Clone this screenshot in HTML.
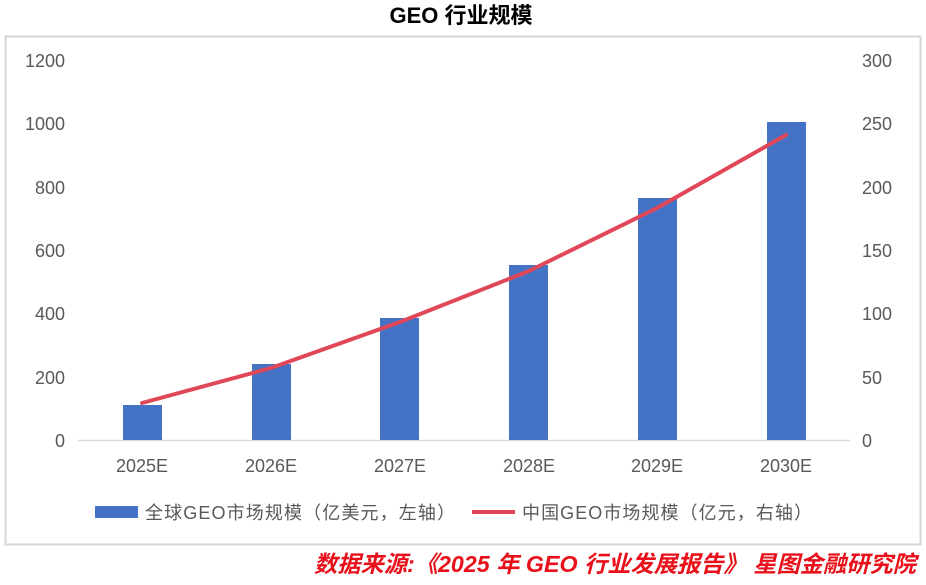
<!DOCTYPE html>
<html><head><meta charset="utf-8"><style>
body{margin:0;background:#fff;width:926px;height:580px;overflow:hidden}
svg text{font-family:"Liberation Sans","Noto Sans CJK SC",sans-serif}
</style></head><body>
<svg width="926" height="580" viewBox="0 0 926 580">
<text x="461" y="23" text-anchor="middle" font-size="22" font-weight="bold" fill="#000">GEO 行业规模</text>
<rect x="5.5" y="36.5" width="915" height="508" fill="none" stroke="#d6d6d6" stroke-width="2"/>
<g font-size="18" fill="#595959" text-anchor="end">
<text x="65" y="67">1200</text><text x="65" y="130">1000</text><text x="65" y="194">800</text>
<text x="65" y="257">600</text><text x="65" y="320">400</text><text x="65" y="384">200</text><text x="65" y="447">0</text>
</g>
<g font-size="18" fill="#595959" text-anchor="start">
<text x="862" y="67">300</text><text x="862" y="130">250</text><text x="862" y="194">200</text>
<text x="862" y="257">150</text><text x="862" y="320">100</text><text x="862" y="384">50</text><text x="862" y="447">0</text>
</g>
<line x1="78" y1="440.5" x2="850" y2="440.5" stroke="#d9d9d9" stroke-width="1.5"/>
<g fill="#4472c4">
<rect x="123" y="405" width="39" height="35"/>
<rect x="252" y="364" width="39" height="76"/>
<rect x="380" y="318" width="39" height="122"/>
<rect x="509" y="265" width="39" height="175"/>
<rect x="638" y="198" width="39" height="242"/>
<rect x="767" y="122" width="39" height="318"/>
</g>
<polyline points="142,403 271,368 400,322 529,271 657,208 786,135" fill="none" stroke="#e0485a" stroke-width="4" stroke-linejoin="round" stroke-linecap="round"/>
<g font-size="18" fill="#595959" text-anchor="middle">
<text x="142" y="472">2025E</text><text x="271" y="472">2026E</text><text x="400" y="472">2027E</text>
<text x="529" y="472">2028E</text><text x="657" y="472">2029E</text><text x="786" y="472">2030E</text>
</g>
<rect x="95" y="506" width="43" height="12" fill="#4472c4"/>
<text x="145" y="519" font-size="18" fill="#595959" textLength="310" lengthAdjust="spacing">全球GEO市场规模（亿美元，左轴）</text>
<line x1="472" y1="512" x2="515" y2="512" stroke="#e0485a" stroke-width="4"/>
<text x="522" y="519" font-size="18" fill="#595959" textLength="290" lengthAdjust="spacing">中国GEO市场规模（亿元，右轴）</text>
<text x="916" y="572" text-anchor="end" font-size="23" font-weight="bold" font-style="italic" fill="#e8101a" textLength="602" lengthAdjust="spacingAndGlyphs">数据来源:《2025 年 GEO 行业发展报告》 星图金融研究院</text>
</svg>
</body></html>
